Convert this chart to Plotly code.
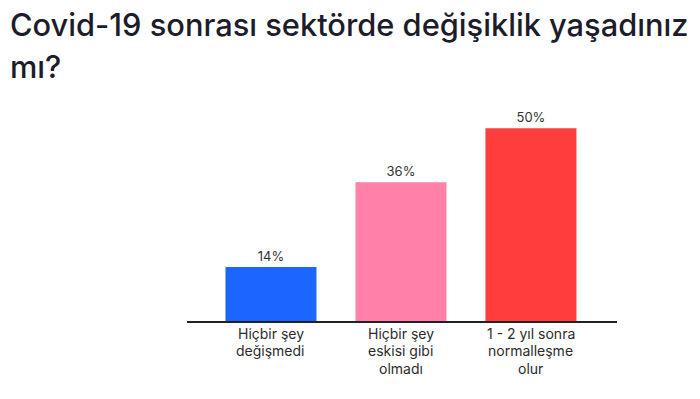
import plotly.graph_objects as go

categories = ["Hiçbir şey<br>değişmedi", "Hiçbir şey<br>eskisi gibi<br>olmadı", "1 - 2 yıl sonra<br>normalleşme<br>olur"]
values = [14, 36, 50]
labels = ["14%", "36%", "50%"]
colors = ["#1a66ff", "#ff80a8", "#ff3d3d"]
title_lines = ["Covid-19 sonrası sektörde değişiklik yaşadınız", "mı?"]

fig = go.Figure(go.Bar(
    x=categories, y=values, text=labels, textposition="outside",
    marker=dict(color=colors, line=dict(width=0)),
    textfont=dict(family="Inter", size=13, color="#333333"),
    cliponaxis=False,
    hoverinfo="skip",
))

H = 399
PT, PB = 109, 78
for line, ypx in zip(title_lines, [24, 66]):
    fig.add_annotation(
        text=line, xref="paper", yref="paper",
        x=(8 - 187) / 430, xanchor="left",
        y=(H - PB - ypx) / (H - PT - PB), yanchor="middle",
        showarrow=False,
        font=dict(family="Inter", size=30.8, color="#1c1c2b", weight=500),
    )

# category labels, one line at a time for wider line spacing
for cat in categories:
    for i, part in enumerate(cat.split("<br>")):
        fig.add_annotation(
            text=part, x=cat, y=0, xref="x", yref="y",
            yanchor="middle", yshift=-12 - 17.5 * i,
            showarrow=False,
            font=dict(family="Inter", size=14, color="#2b2b2b"),
        )

fig.update_layout(
    width=700, height=H,
    margin=dict(l=187, r=83, t=PT, b=PB, autoexpand=False),
    paper_bgcolor="white", plot_bgcolor="white",
    bargap=0.3,
    showlegend=False,
    xaxis=dict(
        range=[-0.646, 2.662], showgrid=False, zeroline=False,
        showline=True, linecolor="#222222", linewidth=2,
        ticks="", showticklabels=False, automargin=False,
    ),
    yaxis=dict(range=[0, 55], visible=False, automargin=False),
)

fig.write_html(
    "out.html",
    config={"displayModeBar": False},
    post_script="document.body.style.margin='0';document.body.style.overflow='hidden';",
)
